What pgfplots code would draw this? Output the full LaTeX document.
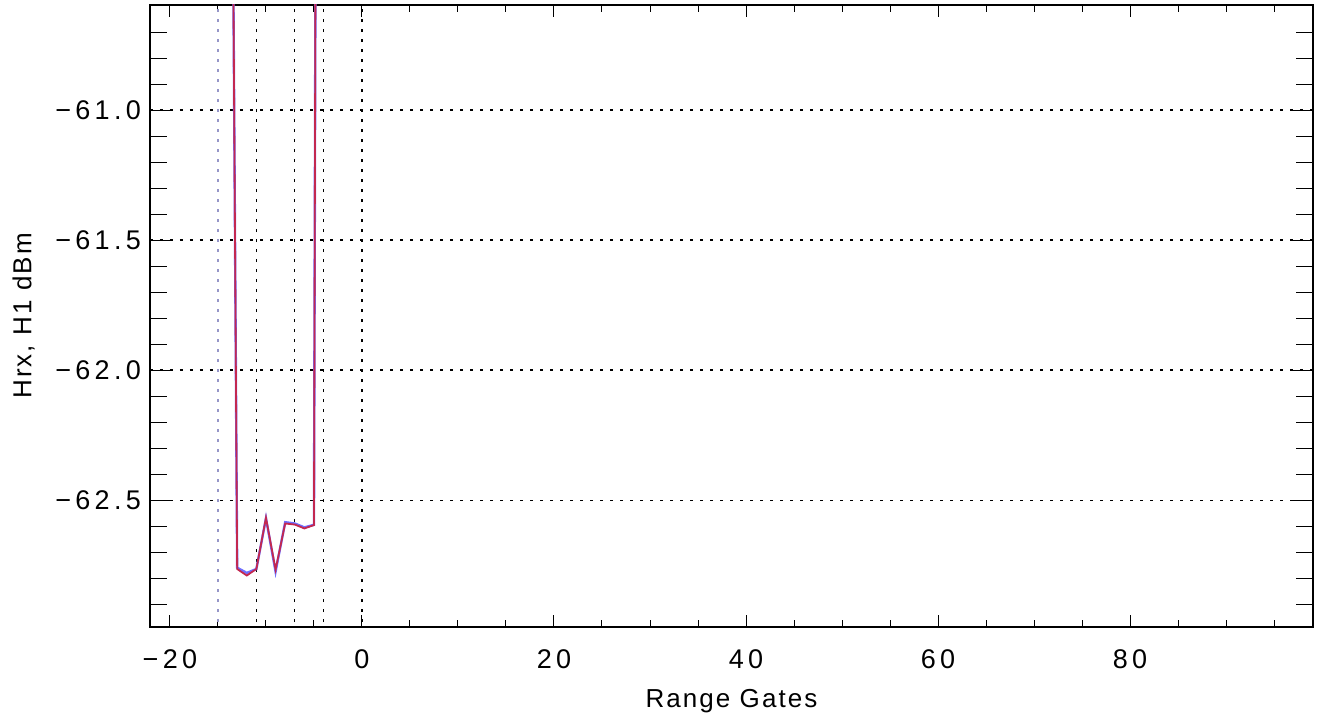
\documentclass[border=0pt]{standalone}
\usepackage{pgfplots}
\pgfplotsset{compat=1.18}
\usepackage{fontspec}
\setmainfont{Liberation Sans}[LetterSpace=8]
\newfontfamily\tickfont{Liberation Sans}[LetterSpace=16]
\definecolor{lnred}{RGB}{195,40,80}
\definecolor{lnblue}{RGB}{110,110,255}
\definecolor{lnpurp}{RGB}{150,150,200}
\begin{document}
\begin{tikzpicture}[x=1pt,y=1pt]
\begin{axis}[
  at={(0,0)}, anchor=south west,
  scale only axis, width=581.5pt, height=311pt,
  xmin=-22.08, xmax=99.06, ymin=-62.988, ymax=-60.596,
  font=\fontsize{13}{15}\selectfont,
  tick label style={font=\tickfont\fontsize{13.5}{15}\selectfont},
  axis line style={black, line width=0.6pt},
  xtick={-20,0,20,40,60,80},
  xticklabels={−20,0,20,40,60,80},
  minor xtick={-15,-10,-5,5,10,15,25,30,35,45,50,55,65,70,75,85,90,95},
  ytick={-61,-61.5,-62,-62.5},
  yticklabels={−61.0,−61.5,−62.0,−62.5},
  minor ytick={-60.7,-60.8,-60.9,-61.1,-61.2,-61.3,-61.4,-61.6,-61.7,-61.8,-61.9,-62.1,-62.2,-62.3,-62.4,-62.6,-62.7,-62.8,-62.9},
  tick align=inside,
  xtick style={black, line width=0.5pt, /pgfplots/major tick length=6pt, /pgfplots/minor tick length=3.5pt},
  ytick style={black, line width=0.5pt, /pgfplots/major tick length=11.5pt, /pgfplots/minor tick length=8.5pt},
  ymajorgrids,
  major grid style={black, line width=0.6pt, dash pattern=on 1.5pt off 3.5pt},
  xticklabel style={yshift=-8pt},
  yticklabel style={xshift=-1pt},
  xlabel={Range Gates},
  ylabel={Hrx, H1 dBm},
  xlabel style={yshift=-3pt},
  ylabel style={yshift=3.5pt},
  clip=true,
]
% vertical marker lines
\addplot[forget plot, lnpurp, line width=0.6pt, dash pattern=on 1.5pt off 3.5pt] coordinates {(-15,-63.2) (-15,-60.4)};
\addplot[forget plot, black, line width=0.6pt, dash pattern=on 1.5pt off 3.5pt] coordinates {(-11,-63.2) (-11,-60.4)};
\addplot[forget plot, black, line width=0.6pt, dash pattern=on 1.5pt off 3.5pt] coordinates {(-7,-63.2) (-7,-60.4)};
\addplot[forget plot, black, line width=0.6pt, dash pattern=on 1.5pt off 3.5pt] coordinates {(-4,-63.2) (-4,-60.4)};
\addplot[forget plot, black, line width=0.6pt, dash pattern=on 1.5pt off 3.5pt] coordinates {(0,-63.2) (0,-60.4)};
% blue series
\addplot[lnblue, line width=1.2pt] coordinates {
(-14,-57.1) (-13,-62.760) (-12,-62.780) (-11,-62.765) (-10,-62.570)
(-9,-62.775) (-8,-62.585) (-7,-62.590) (-6,-62.605) (-5,-62.595) (-4,-49.0)};
% red series
\addplot[lnred, line width=0.9pt] coordinates {
(-14,-57.1) (-13,-62.765) (-12,-62.790) (-11,-62.765) (-10,-62.568)
(-9,-62.767) (-8,-62.590) (-7,-62.594) (-6,-62.609) (-5,-62.596) (-4,-49.0)};
\end{axis}
\pgfresetboundingbox
\path[use as bounding box] (-75pt,-45pt) rectangle (586pt,313.5pt);
\end{tikzpicture}
\end{document}
